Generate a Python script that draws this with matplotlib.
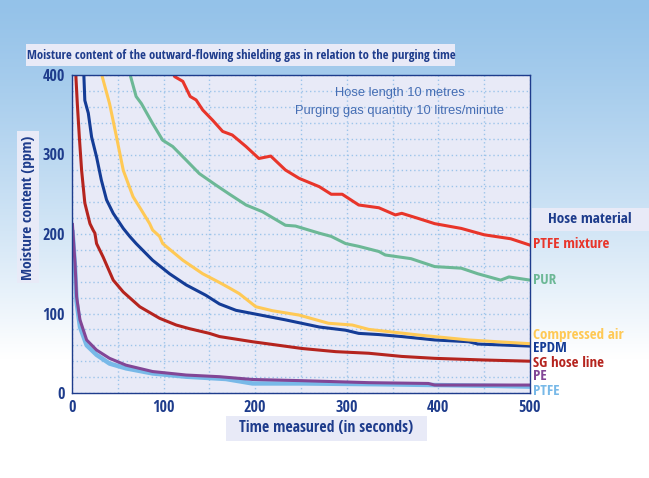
import numpy as np
import matplotlib
matplotlib.use("Agg")
import matplotlib.pyplot as plt
from matplotlib.patches import Rectangle

# data (time in s, moisture in ppm)
sg_x = [4, 4.3, 5.8, 8, 10.5, 14, 19.6, 23, 25, 26.8, 34, 45, 56, 74, 95.6, 113.8, 128, 150, 161, 197, 251, 288, 324, 360, 396, 450, 500]
sg_y = [410, 397, 364, 322, 280, 239, 213, 205, 201, 188, 171, 142, 127, 108.5, 94, 85.5, 81, 75, 71, 64.5, 56, 52, 50, 46, 43.6, 41.5, 40]

epdm_x = [12.8, 13, 14, 17.8, 21.4, 26.8, 32, 37.7, 45, 56, 63, 70, 88, 106.5, 124.6, 146, 161, 179, 197, 233, 270, 298.6, 313, 335, 360, 396, 433, 443, 500]
epdm_y = [410, 398, 368, 352, 322, 297, 268, 243, 226, 207, 197, 188, 167, 150, 136, 123, 112, 104, 100, 92, 83, 79, 75, 73.5, 71, 66.7, 64.5, 61.6, 59]

air_x = [32, 33, 41, 48.6, 56, 66.6, 75.8, 84.8, 88, 95.6, 99, 121, 142.7, 161, 172, 182.6, 200.7, 218.8, 248, 280, 306, 324, 378, 433, 500]
air_y = [410, 398, 364, 322, 280, 247, 230, 213, 205, 197, 188, 167, 150, 139, 132, 125, 108.5, 103.5, 98, 87.7, 85.5, 80, 73, 66.7, 62]

pur_x = [63, 64, 70, 75.8, 88, 99, 110, 124.6, 139, 157, 172, 190, 208, 233, 244, 270, 283, 298.6, 313, 335, 342, 370, 396, 425, 443, 468, 477, 500]
pur_y = [410, 398, 373, 364, 339, 318, 310, 293, 276, 261.6, 250, 236.5, 228, 211, 210, 201, 197, 188, 184.5, 178, 173.6, 169, 159, 157, 150, 142, 146, 142]

mix_x = [110, 112, 121, 129, 135.5, 142.7, 153.6, 164.5, 175, 190, 204, 217, 233, 248, 270, 283, 295, 313, 335, 353, 360, 378, 396, 425, 450, 479, 500]
mix_y = [405, 398, 392, 373, 368.6, 356, 343, 329, 324.5, 310, 295, 298, 280.5, 270, 259.5, 250, 250, 236.5, 233, 224, 226, 219.6, 213, 207, 199, 194, 186]

pe_x = [0.5, 2, 3.3, 5, 8.7, 16, 26.8, 41, 59, 88, 124.6, 161, 197, 251, 324, 389, 396, 500]
pe_y = [212, 185, 163, 121, 92, 66.7, 54, 43.6, 35, 27, 22.6, 20.5, 17, 15.5, 13, 12, 10, 10]

ptfe_x = [0.5, 2, 3.3, 5, 8.7, 16, 26.8, 41, 59, 88, 124.6, 168, 197, 251, 335, 460, 500]
ptfe_y = [205, 180, 158, 115, 83, 60, 48, 37, 31, 24.6, 20.5, 17.6, 12, 12, 11, 9, 8]

labels = ["PTFE mixture", "PUR", "Compressed air", "EPDM", "SG hose line", "PE", "PTFE"]
label_px = [244, 280, 335, 348, 363, 376, 391]

c_mix = "#e8352a"
c_pur = "#6cb896"
c_air = "#ffc955"
c_epdm = "#143c96"
c_sg = "#b5241e"
c_pe = "#824696"
c_ptfe = "#78b9e8"
navy = "#1e3c8c"
lav = "#e8eaf7"

narrow = ["Liberation Sans Narrow", "Open Sans Condensed", "Roboto Condensed", "DejaVu Sans"]

W, H = 649, 478
fig = plt.figure(figsize=(W / 100, H / 100), dpi=100)
rend = fig.canvas.get_renderer()


def fit(txt, width_px, vertical=False):
    bb = txt.get_window_extent(rend)
    w = bb.height if vertical else bb.width
    txt.set_fontsize(txt.get_fontsize() * width_px / w)


# background gradient
bg = fig.add_axes([0, 0, 1, 1])
bg.set_axis_off()
t = np.linspace(0, 1, 300)
top = np.array([148, 194, 233]) / 255
grad = np.clip(t / 0.75, 0, 1) ** 1.2
rgb = top[None, :] * (1 - grad[:, None]) + grad[:, None]
bg.imshow(np.repeat(rgb[:, None, :], 2, axis=1), aspect="auto", extent=[0, 1, 0, 1], origin="upper")
bg.set_xlim(0, 1)
bg.set_ylim(0, 1)


def fx(px):
    return px / W


def fy(py):
    return 1 - py / H


# boxes
bg.add_patch(Rectangle((fx(26), fy(66)), fx(455) - fx(26), fy(44) - fy(66), color=lav, lw=0))
bg.add_patch(Rectangle((fx(17), fy(283)), fx(39) - fx(17), fy(131) - fy(283), color=lav, lw=0))
bg.add_patch(Rectangle((fx(226), fy(441)), fx(427) - fx(226), fy(416) - fy(441), color=lav, lw=0))
bg.add_patch(Rectangle((fx(532), fy(231)), fx(649) - fx(532), fy(208) - fy(231), color=lav, lw=0))

kw = dict(color=navy, fontweight="bold", family=narrow, fontstretch="condensed")
t1 = fig.text(fx(241), fy(55), "Moisture content of the outward-flowing shielding gas in relation to the purging time",
              ha="center", va="center", fontsize=9.5, **kw)
fit(t1, 428)
t2 = fig.text(fx(28), fy(208), "Moisture content (ppm)", rotation=90, ha="center", va="center", fontsize=9, **kw)
fit(t2, 146, vertical=True)
t3 = fig.text(fx(326), fy(428), "Time measured (in seconds)", ha="center", va="center", fontsize=9, **kw)
fit(t3, 175)
t4 = fig.text(fx(590), fy(219), "Hose material", ha="center", va="center", fontsize=9.5, **kw)
fit(t4, 85)

colors = [c_mix, c_pur, c_air, c_epdm, c_sg, c_pe, c_ptfe]
side = []
for lab, py, col in zip(labels, label_px, colors):
    side.append(fig.text(fx(533), fy(py), lab, ha="left", va="center", color=col,
                         fontsize=8.5, fontweight="bold", family=narrow, fontstretch="condensed"))
fit(side[2], 90)
for s in side:
    s.set_fontsize(side[2].get_fontsize())

ax = fig.add_axes([fx(72), fy(393), fx(530) - fx(72), fy(75) - fy(393)])
ax.set_facecolor(lav)

ax.plot(ptfe_x, ptfe_y, color=c_ptfe, lw=3.2, solid_capstyle="butt")
ax.plot(pe_x, pe_y, color=c_pe, lw=2.2)
ax.plot(sg_x, sg_y, color=c_sg, lw=2.2)
ax.plot(epdm_x, epdm_y, color=c_epdm, lw=2.2)
ax.plot(air_x, air_y, color=c_air, lw=2.2)
ax.plot(pur_x, pur_y, color=c_pur, lw=2.2)
ax.plot(mix_x, mix_y, color=c_mix, lw=2.2)

ax.set_xlim(0, 500)
ax.set_ylim(0, 400)
ax.set_xticks(range(0, 501, 100))
ax.set_yticks(range(0, 401, 100))
ax.set_xticks(range(0, 501, 50), minor=True)
ax.set_yticks(range(0, 401, 20), minor=True)
ax.grid(which="both", color="#9cc4ea", linestyle=(0, (1, 2)), lw=1)
ax.set_axisbelow(True)
ax.tick_params(which="both", length=0)
ax.tick_params(axis="x", pad=5)
ax.tick_params(axis="y", pad=5)
for lab in ax.get_xticklabels() + ax.get_yticklabels():
    lab.set_family(narrow)
    lab.set_fontstretch("condensed")
    lab.set_fontweight("bold")
    lab.set_color(navy)
    lab.set_fontsize(11.5)
for s in ax.spines.values():
    s.set_color(navy)
    s.set_linewidth(1)

a1 = ax.text(358, 377, "Hose length 10 metres", ha="center", va="center", color="#466eb4", fontsize=9,
             family=["Liberation Sans", "DejaVu Sans"])
a2 = ax.text(358, 355, "Purging gas quantity 10 litres/minute", ha="center", va="center", color="#466eb4",
             fontsize=9, family=["Liberation Sans", "DejaVu Sans"])
fit(a2, 210)
a1.set_fontsize(a2.get_fontsize())

fig.savefig("out.png", dpi=100)
